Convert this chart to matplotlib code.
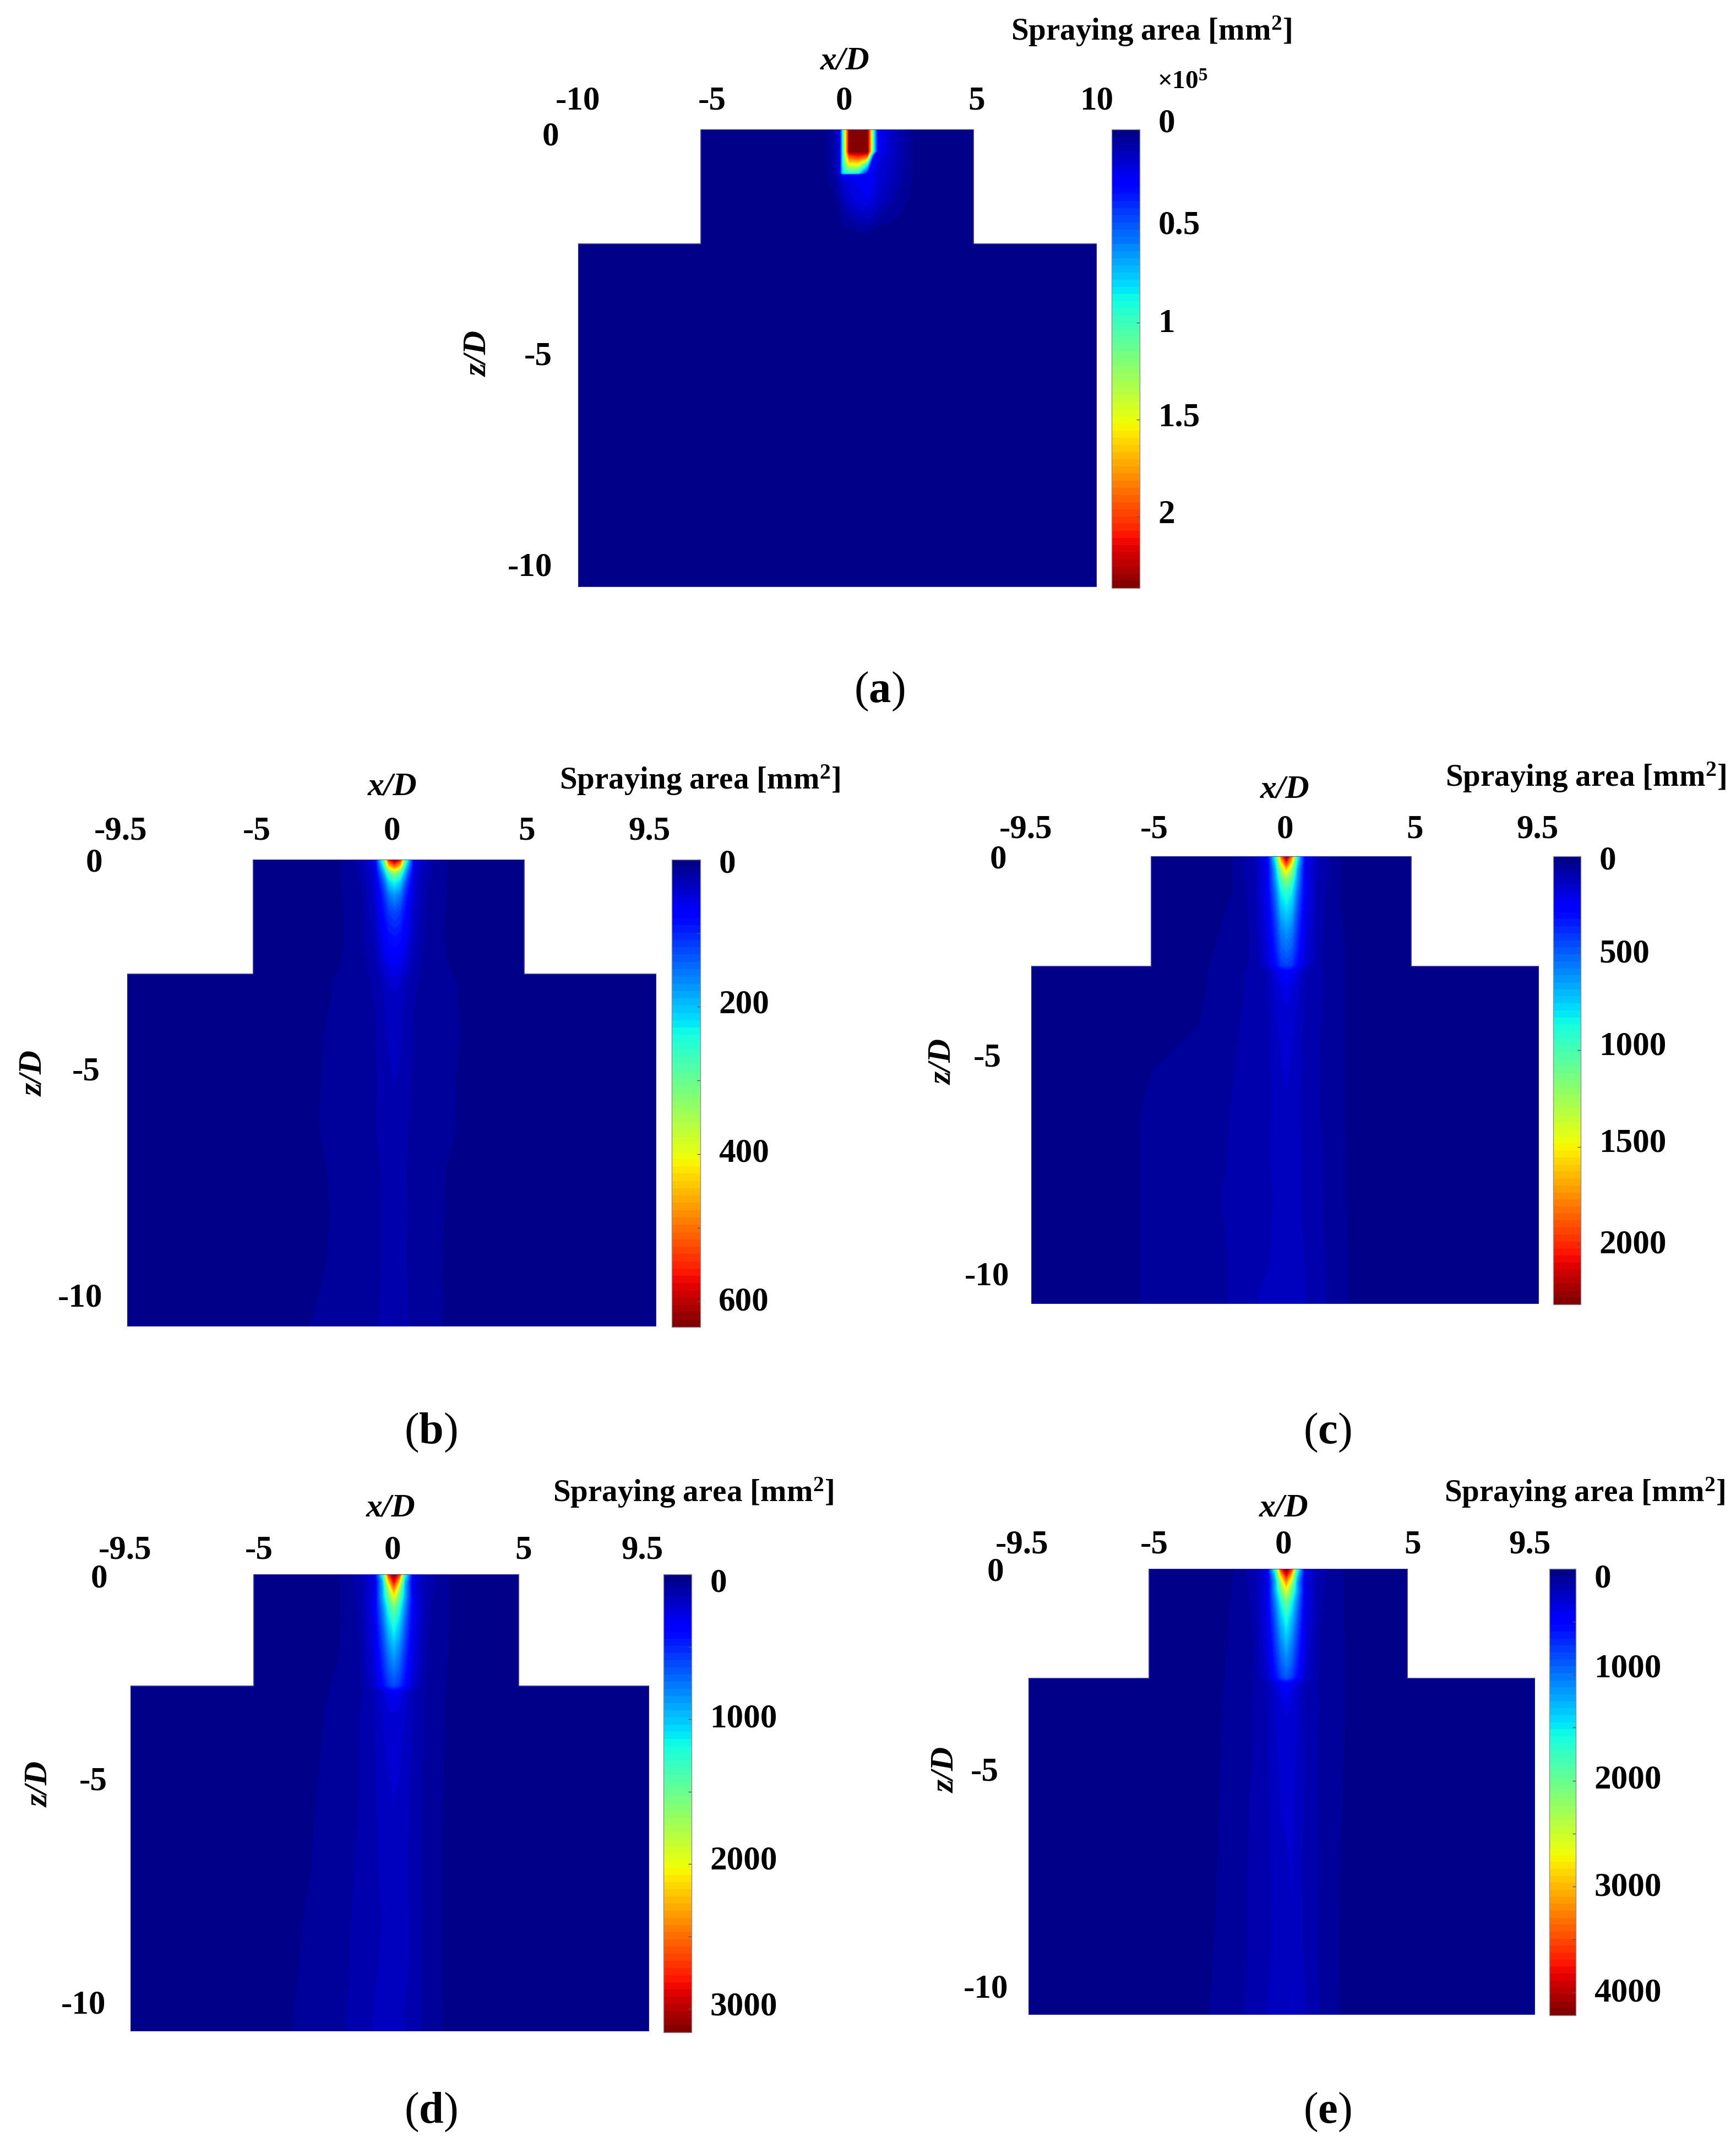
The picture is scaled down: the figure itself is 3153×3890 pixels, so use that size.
import numpy as np
import matplotlib
matplotlib.use('Agg')
import matplotlib.pyplot as plt
from matplotlib.patches import PathPatch
from matplotlib.path import Path
from matplotlib.transforms import ScaledTranslation

plt.rcParams['font.family'] = ['Liberation Serif', 'DejaVu Serif']
plt.rcParams['mathtext.fontset'] = 'custom'
plt.rcParams['mathtext.rm'] = 'Liberation Serif'
plt.rcParams['mathtext.bf'] = 'Liberation Serif:bold'
plt.rcParams['mathtext.it'] = 'Liberation Serif:italic:bold'

W, H = 3153, 3890

# field tables: rows go with depth, columns across the jet
depth_a = [0, 0.5, 0.6, 0.8, 1.0, 1.04, 1.2, 1.6, 2.0, 2.3, 2.5, 10.5]
cols_a = [-10.5, -5, -1, -0.45, -0.1, 0.1, 0.2, 0.33, 0.46, 0.8, 1.15, 1.28, 1.4, 1.55, 2, 2.8, 3.3, 5, 10.5]
field_a = [
    [.02, .02, .02, .03, .08, .2, .85, 1.6, 2.37, 2.37, 2.37, 1.7, .9, .25, .16, .04, .02, .02, .02],
    [.02, .02, .02, .03, .08, .2, .85, 1.6, 2.37, 2.37, 2.37, 1.7, .9, .25, .16, .04, .02, .02, .02],
    [.02, .02, .02, .03, .08, .2, .85, 1.5, 2.0, 2.1, 2.0, 1.0, .3, .22, .15, .04, .02, .02, .02],
    [.02, .02, .02, .03, .08, .2, .85, 1.2, 1.5, 1.5, .9, .3, .24, .19, .14, .04, .02, .02, .02],
    [.02, .02, .02, .03, .08, .2, .8, .9, .9, .85, .3, .26, .23, .18, .13, .04, .02, .02, .02],
    [.02, .02, .02, .03, .06, .15, .26, .26, .26, .26, .25, .24, .22, .18, .13, .04, .02, .02, .02],
    [.02, .02, .02, .03, .05, .11, .16, .18, .2, .23, .25, .24, .21, .18, .12, .04, .02, .02, .02],
    [.02, .02, .02, .02, .03, .07, .1, .13, .16, .2, .22, .2, .18, .15, .09, .03, .02, .02, .02],
    [.02, .02, .02, .02, .02, .03, .05, .06, .08, .11, .13, .12, .1, .08, .05, .02, .02, .02, .02],
    [.02, .02, .02, .02, .02, .02, .02, .03, .03, .04, .05, .04, .03, .02, .02, .02, .02, .02, .02],
    [.02, .02, .02, .02, .02, .02, .02, .02, .02, .02, .02, .02, .02, .02, .02, .02, .02, .02, .02],
    [.02, .02, .02, .02, .02, .02, .02, .02, .02, .02, .02, .02, .02, .02, .02, .02, .02, .02, .02],
]

depth_jet = [0, .15, .3, .5, .8, 1.2, 1.7, 2.2, 2.55, 2.7, 3.2, 4, 5, 6, 7, 8, 9, 10, 10.5]
cols_jet = [-10.5, -5, -3, -2, -1.2, -.7, -.4, -.2, 0, .2, .4, .7, 1.2, 2, 3, 5, 10.5]
field_b = [
    [4, 4, 5, 8, 25, 60, 280, 560, 635, 560, 280, 60, 25, 8, 5, 4, 4],
    [4, 4, 5, 8, 22, 55, 220, 430, 500, 430, 220, 55, 22, 8, 5, 4, 4],
    [4, 4, 5, 8, 22, 50, 170, 280, 330, 280, 170, 50, 22, 8, 5, 4, 4],
    [4, 4, 5, 8, 20, 45, 130, 210, 240, 210, 130, 45, 20, 8, 5, 4, 4],
    [4, 4, 5, 8, 18, 42, 100, 150, 170, 150, 100, 42, 18, 8, 5, 4, 4],
    [4, 4, 5, 8, 16, 38, 80, 110, 120, 110, 80, 38, 16, 8, 5, 4, 4],
    [4, 4, 5, 8, 15, 33, 65, 85, 90, 85, 65, 33, 15, 8, 5, 4, 4],
    [4, 4, 5, 9, 14, 28, 50, 65, 70, 65, 50, 28, 14, 9, 5, 4, 4],
    [4, 4, 5, 10, 14, 24, 40, 50, 55, 50, 40, 24, 14, 10, 5, 4, 4],
    [4, 4, 6, 11, 14, 22, 33, 42, 45, 42, 33, 22, 14, 11, 6, 4, 4],
    [4, 4, 7, 11, 15, 20, 28, 34, 37, 34, 28, 20, 15, 11, 7, 4, 4],
    [4, 4, 8, 12, 15, 19, 25, 31, 33, 31, 25, 19, 15, 12, 6, 4, 4],
    [4, 4, 8, 13, 15, 18, 23, 28, 30, 28, 23, 17, 13, 11, 5, 4, 4],
    [4, 4, 8, 14, 13, 19, 24, 26, 28, 26, 22, 15, 14, 11, 6, 4, 4],
    [4, 4, 7, 12, 15, 17, 21, 25, 26, 24, 20, 17, 13, 9, 5, 4, 4],
    [4, 4, 7, 11, 16, 14, 20, 24, 22, 25, 21, 14, 15, 8, 5, 4, 4],
    [4, 4, 7, 12, 15, 13, 21, 23, 19, 24, 20, 13, 13, 8, 5, 4, 4],
    [4, 4, 9, 13, 14, 16, 22, 21, 25, 19, 22, 15, 14, 8, 4, 4, 4],
    [4, 4, 10, 13, 14, 15, 23, 21, 25, 19, 23, 15, 13, 8, 4, 4, 4],
]
field_c = [
    [15, 15, 20, 36, 110, 250, 900, 1800, 2300, 1800, 900, 250, 110, 36, 20, 15, 15],
    [15, 15, 20, 36, 105, 230, 800, 1500, 2000, 1500, 800, 230, 105, 36, 20, 15, 15],
    [15, 15, 20, 36, 100, 220, 700, 1250, 1600, 1250, 700, 220, 100, 36, 20, 15, 15],
    [15, 15, 20, 36, 95, 230, 650, 1050, 1250, 1050, 650, 230, 95, 36, 20, 15, 15],
    [15, 15, 20, 36, 90, 240, 560, 850, 950, 850, 560, 240, 90, 36, 20, 15, 15],
    [15, 15, 22, 40, 85, 220, 480, 720, 800, 720, 480, 220, 85, 36, 20, 15, 15],
    [15, 15, 25, 45, 80, 200, 400, 580, 640, 580, 400, 200, 80, 38, 20, 15, 15],
    [15, 15, 30, 50, 78, 180, 340, 480, 520, 480, 340, 180, 78, 40, 20, 15, 15],
    [15, 15, 32, 55, 78, 160, 290, 400, 430, 400, 290, 160, 78, 40, 20, 15, 15],
    [15, 15, 34, 58, 80, 112, 190, 250, 270, 250, 190, 112, 78, 40, 20, 15, 15],
    [15, 15, 36, 62, 82, 105, 150, 180, 190, 180, 150, 105, 78, 40, 20, 15, 15],
    [15, 25, 38, 65, 85, 100, 135, 155, 165, 155, 130, 100, 76, 40, 18, 15, 15],
    [15, 36, 42, 70, 88, 100, 122, 140, 150, 140, 120, 98, 74, 40, 18, 15, 15],
    [15, 38, 48, 75, 92, 102, 118, 128, 140, 132, 118, 96, 75, 40, 16, 15, 15],
    [15, 38, 50, 78, 95, 104, 120, 130, 118, 135, 122, 98, 78, 42, 16, 15, 15],
    [15, 38, 52, 85, 100, 92, 115, 112, 130, 120, 118, 100, 80, 42, 16, 15, 15],
    [15, 38, 55, 78, 100, 94, 125, 108, 135, 114, 128, 102, 82, 44, 16, 15, 15],
    [15, 38, 58, 75, 104, 112, 128, 122, 134, 118, 124, 108, 86, 44, 16, 15, 15],
    [15, 38, 60, 76, 106, 115, 130, 125, 135, 120, 125, 110, 88, 44, 16, 15, 15],
]
field_d = [
    [20, 20, 28, 45, 130, 300, 1300, 2700, 3160, 2700, 1300, 300, 130, 50, 28, 20, 20],
    [20, 20, 28, 45, 125, 280, 1000, 2200, 2900, 2200, 1000, 280, 125, 50, 28, 20, 20],
    [20, 20, 28, 45, 120, 270, 950, 1800, 2500, 1800, 950, 270, 120, 50, 28, 20, 20],
    [20, 20, 28, 45, 115, 300, 950, 1500, 2000, 1500, 950, 300, 115, 50, 28, 20, 20],
    [20, 20, 28, 45, 110, 320, 800, 1200, 1500, 1200, 800, 320, 110, 50, 28, 20, 20],
    [20, 20, 28, 45, 105, 300, 680, 1000, 1200, 1000, 680, 300, 105, 50, 28, 20, 20],
    [20, 20, 28, 48, 100, 270, 560, 800, 950, 800, 560, 270, 100, 48, 26, 20, 20],
    [20, 20, 30, 52, 100, 240, 470, 650, 750, 650, 470, 240, 100, 46, 24, 20, 20],
    [20, 20, 32, 56, 95, 210, 400, 540, 620, 540, 400, 210, 90, 44, 24, 20, 20],
    [20, 20, 34, 58, 95, 150, 230, 300, 330, 300, 230, 150, 85, 42, 24, 20, 20],
    [20, 20, 38, 62, 100, 150, 200, 230, 240, 230, 200, 150, 85, 42, 24, 20, 20],
    [20, 22, 40, 66, 100, 145, 185, 210, 220, 210, 185, 140, 85, 40, 22, 20, 20],
    [20, 24, 44, 70, 100, 140, 170, 190, 200, 190, 170, 130, 82, 38, 22, 20, 20],
    [20, 25, 48, 75, 104, 135, 168, 190, 195, 185, 165, 128, 80, 36, 22, 20, 20],
    [20, 26, 50, 78, 110, 130, 165, 190, 180, 175, 160, 125, 80, 36, 22, 20, 20],
    [20, 26, 54, 80, 112, 136, 150, 165, 188, 155, 170, 128, 80, 36, 22, 20, 20],
    [20, 26, 56, 82, 115, 142, 155, 170, 190, 150, 165, 130, 80, 36, 22, 20, 20],
    [20, 26, 60, 86, 120, 150, 180, 175, 155, 165, 145, 125, 82, 36, 22, 20, 20],
    [20, 26, 62, 88, 122, 152, 182, 176, 158, 166, 146, 126, 84, 36, 22, 20, 20],
]
field_e = [
    [25, 25, 40, 66, 170, 400, 1800, 3600, 4210, 3600, 1800, 400, 170, 70, 40, 25, 25],
    [25, 25, 40, 66, 165, 380, 1450, 2900, 3800, 2900, 1450, 380, 165, 70, 40, 25, 25],
    [25, 25, 40, 66, 160, 350, 1250, 2400, 3200, 2400, 1250, 350, 160, 70, 40, 25, 25],
    [25, 25, 40, 66, 150, 380, 1250, 2000, 2600, 2000, 1250, 380, 150, 70, 40, 25, 25],
    [25, 25, 40, 68, 145, 400, 1050, 1550, 2000, 1550, 1050, 400, 145, 70, 40, 25, 25],
    [25, 25, 40, 70, 140, 370, 900, 1300, 1600, 1300, 900, 370, 140, 70, 38, 25, 25],
    [25, 25, 40, 72, 135, 340, 760, 1080, 1300, 1080, 760, 340, 135, 72, 36, 25, 25],
    [25, 25, 40, 75, 135, 300, 640, 900, 1050, 900, 640, 300, 135, 72, 36, 25, 25],
    [25, 25, 40, 75, 130, 270, 540, 760, 880, 760, 540, 270, 130, 72, 36, 25, 25],
    [25, 25, 40, 78, 130, 200, 320, 430, 480, 430, 320, 200, 130, 72, 36, 25, 25],
    [25, 25, 42, 80, 135, 190, 260, 310, 340, 310, 260, 190, 135, 72, 36, 25, 25],
    [25, 25, 44, 82, 135, 190, 250, 290, 310, 295, 255, 190, 132, 72, 34, 25, 25],
    [25, 25, 46, 84, 140, 190, 240, 270, 290, 280, 250, 190, 130, 70, 32, 25, 25],
    [25, 25, 48, 86, 145, 188, 228, 262, 270, 275, 242, 186, 128, 68, 30, 25, 25],
    [25, 25, 50, 88, 150, 185, 220, 255, 250, 270, 235, 180, 125, 66, 30, 25, 25],
    [25, 25, 52, 88, 150, 185, 212, 250, 236, 262, 225, 188, 128, 64, 28, 25, 25],
    [25, 25, 55, 90, 150, 185, 215, 250, 240, 255, 225, 190, 130, 64, 28, 25, 25],
    [25, 25, 60, 92, 155, 195, 232, 258, 252, 265, 238, 195, 134, 64, 28, 25, 25],
    [25, 25, 62, 94, 156, 196, 235, 260, 255, 265, 240, 195, 135, 64, 28, 25, 25],
]

x_labels_a = ['-10', '-5', '0', '5', '10']
x_ticks_a = [-10, -5, 0, 5, 10]
x_labels = ['-9.5', '-5', '0', '5', '9.5']
x_ticks = [-9.5, -5, 0, 5, 9.5]
z_ticks = [0, -5, -10]
z_labels = ['0', '-5', '-10']

vmax_a, vmax_b, vmax_c, vmax_d, vmax_e = 2.37, 635, 2314, 3163, 4218
cb_ticks_a = [0, 0.5, 1, 1.5, 2]
cb_labels_a = ['0', '0.5', '1', '1.5', '2']
cb_ticks_b = [0, 100, 200, 300, 400, 500, 600]
cb_labels_b = ['0', '', '200', '', '400', '', '600']
cb_ticks_c = [0, 500, 1000, 1500, 2000]
cb_labels_c = ['0', '500', '1000', '1500', '2000']
cb_ticks_d = [0, 500, 1000, 1500, 2000, 2500, 3000]
cb_labels_d = ['0', '', '1000', '', '2000', '', '3000']
cb_ticks_e = [0, 500, 1000, 1500, 2000, 2500, 3000, 3500, 4000]
cb_labels_e = ['0', '', '1000', '', '2000', '', '3000', '', '4000']

# pixel layout of each panel, label nudges are in px of the preview (x2.483 to real px)
panels = [
    dict(letter='a', field=field_a, depth=depth_a, cols=cols_a, shift=0, vmax=vmax_a,
         rect=(1050, 1992, 235, 1066), cbar=(2019, 2070, 235, 1068), xlim=10, neck=(-5.27, 5.24), step=2.63,
         xt=x_ticks_a, xl=x_labels_a, cbt=cb_ticks_a, cbl=cb_labels_a, pad=17,
         xoff=[0, 3, 5, 7, 0], zoff=[(4, 3), (-1, 4), (-1, -1)], cboff=[-7, -3, -2, -4, -4],
         title=(2091, 57), xlab=(1535, 112), zlab=(869, 643), cap=(1597, 1256)),
    dict(letter='b', field=field_b, depth=depth_jet, cols=cols_jet, shift=0.1, vmax=vmax_b,
         rect=(231, 1192, 1561, 2409), cbar=(1220, 1272, 1561, 2410), xlim=9.5, neck=(-4.97, 4.75), step=2.57,
         xt=x_ticks, xl=x_labels, cbt=cb_ticks_b, cbl=cb_labels_b, pad=17,
         xoff=[-5, 3, 0, -3, -5], zoff=[(0, 0), (-2, -10), (0, -7)], cboff=[1, 0, -4, 0, -3, 0, -2],
         title=(1271, 1417), xlab=(713, 1430), zlab=(62, 1949), cap=(782, 2602)),
    dict(letter='c', field=field_c, depth=depth_jet, cols=cols_jet, shift=0.05, vmax=vmax_c,
         rect=(1873, 2795, 1555, 2368), cbar=(2821, 2871, 1555, 2369), xlim=9.5, neck=(-5.01, 4.72), step=2.58,
         xt=x_ticks, xl=x_labels, cbt=cb_ticks_c, cbl=cb_labels_c, pad=15,
         xoff=[-4, 2, 0, -3, -1], zoff=[(0, 0), (-4, -11), (2, -7)], cboff=[1, -2, -5, -5, -2],
         title=(2880, 1412), xlab=(2334, 1435), zlab=(1713, 1929), cap=(2411, 2602)),
    dict(letter='d', field=field_d, depth=depth_jet, cols=cols_jet, shift=0.15, vmax=vmax_d,
         rect=(237, 1179, 2859, 3689), cbar=(1205, 1256, 2859, 3691), xlim=9.5, neck=(-4.98, 4.72), step=2.57,
         xt=x_ticks, xl=x_labels, cbt=cb_ticks_d, cbl=cb_labels_d, pad=11,
         xoff=[-4, 4, 2, -2, -5], zoff=[(1, 1), (1, -10), (0, -6)], cboff=[4, 0, -3, 0, -5, 0, -4],
         title=(1259, 2711), xlab=(710, 2739), zlab=(72, 3240), cap=(782, 3836)),
    dict(letter='e', field=field_e, depth=depth_jet, cols=cols_jet, shift=0.17, vmax=vmax_e,
         rect=(1868, 2788, 2849, 3659), cbar=(2814, 2862, 2849, 3660), xlim=9.5, neck=(-4.98, 4.71), step=2.58,
         xt=x_ticks, xl=x_labels, cbt=cb_ticks_e, cbl=cb_labels_e, pad=11,
         xoff=[-5, 4, 1, -2, -4], zoff=[(0, 0), (-4, -9), (3, -6)], cboff=[5, 0, -7, 0, -3, 0, -2, 0, -2],
         title=(2878, 2711), xlab=(2332, 2739), zlab=(1718, 3215), cap=(2411, 3836)),
]

FS = 44
SCALE = 2.483

fig = plt.figure(figsize=(W / 100, H / 100), dpi=100, facecolor='white')


def add_ax(x0, x1, y0, y1):
    return fig.add_axes([x0 / W, 1 - y1 / H, (x1 - x0) / W, (y1 - y0) / H])


def put(xy, s, **kw):
    fig.text(xy[0] / W, 1 - xy[1] / H, s, ha='center', va='center', **kw)


def nudge(label, dx, dy):
    # dy counted downwards like in the picture
    off = ScaledTranslation(dx * SCALE / 100, -dy * SCALE / 100, fig.dpi_scale_trans)
    label.set_transform(label.get_transform() + off)


for p in panels:
    ax = add_ax(*p['rect'])
    x = np.array(p['cols']) + p['shift']
    z = -np.array(p['depth'])
    levels = np.linspace(0, p['vmax'], 65)
    cs = ax.contourf(x, z, np.array(p['field']), levels=levels, cmap='jet')

    # T shaped domain, the contour fill is cut to it
    L, R = p['neck']
    xl = p['xlim']
    s = -p['step']
    outline = Path([(L, 0), (R, 0), (R, s), (xl, s), (xl, -10.5), (-xl, -10.5), (-xl, s), (L, s), (L, 0)], closed=True)
    edge = PathPatch(outline, facecolor='none', edgecolor='#2b2ba8', lw=1.2, transform=ax.transData, zorder=3)
    ax.add_patch(edge)
    cs.set_clip_path(edge)

    ax.set_xlim(-xl, xl)
    ax.set_ylim(-10.5, 0)
    for sp in ax.spines.values():
        sp.set_visible(False)
    ax.xaxis.tick_top()
    ax.set_xticks(p['xt'], p['xl'])
    ax.set_yticks(z_ticks, z_labels)
    ax.tick_params(axis='x', length=0, pad=p['pad'], labelsize=FS)
    ax.tick_params(axis='y', length=0, pad=32, labelsize=FS)
    for lab, dx in zip(ax.get_xticklabels(), p['xoff']):
        lab.set_fontweight('bold')
        nudge(lab, dx, 0)
    for lab, (dx, dy) in zip(ax.get_yticklabels(), p['zoff']):
        lab.set_fontweight('bold')
        nudge(lab, dx, dy)

    cax = add_ax(*p['cbar'])
    cb = fig.colorbar(cs, cax=cax)
    cax.invert_yaxis()
    cb.set_ticks(p['cbt'], labels=p['cbl'])
    cb.minorticks_off()
    cb.outline.set_edgecolor('#8f8f8f')
    cb.outline.set_linewidth(1.0)
    cax.tick_params(axis='y', direction='in', length=4, width=1, color='#555555', pad=24, labelsize=FS)
    for lab, dy in zip(cax.get_yticklabels(), p['cboff']):
        lab.set_fontweight('bold')
        nudge(lab, 0, dy)

    put(p['title'], r'Spraying area [mm$^{\mathbf{2}}$]', fontsize=41, fontweight='bold')
    put(p['xlab'], 'x/D', fontsize=43, fontweight='bold', fontstyle='italic')
    put(p['zlab'], 'z/D', fontsize=43, fontweight='bold', fontstyle='italic', rotation=90)
    put(p['cap'], '($\\mathbf{%s}$)' % p['letter'], fontsize=58)

put((2148, 151), r'×10$^{\mathbf{5}}$', fontsize=34, fontweight='bold')

fig.savefig('out.png', dpi=100)
